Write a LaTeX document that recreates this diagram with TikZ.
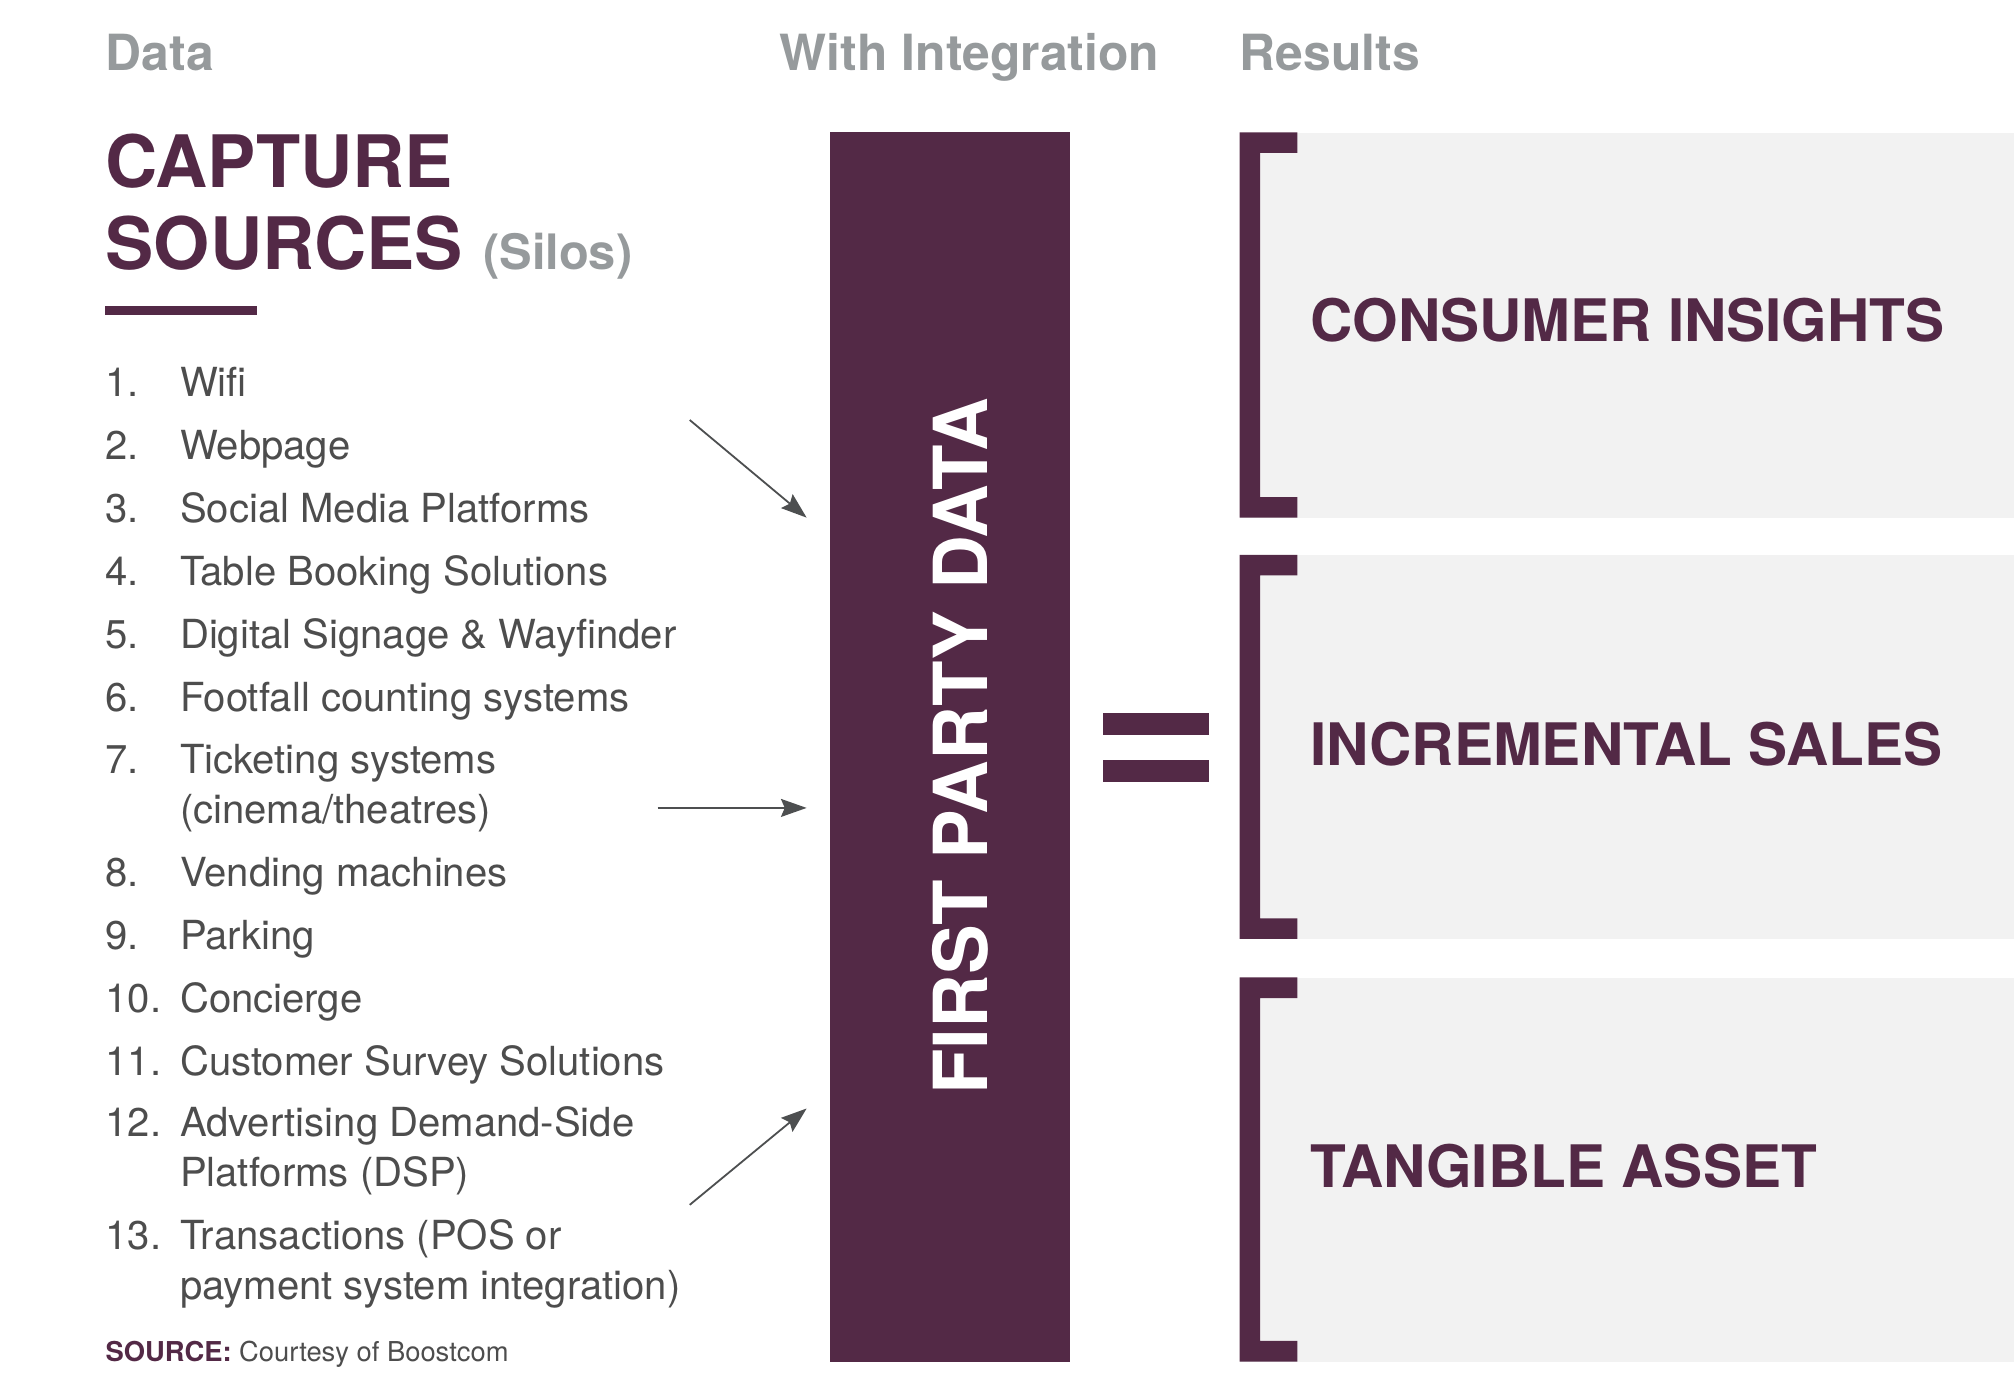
\documentclass[tikz,border=0pt]{standalone}
\usepackage{fontspec}
\setmainfont{TeX Gyre Heros}
\usetikzlibrary{arrows.meta}
\definecolor{plum}{RGB}{83,41,70}
\definecolor{hdrgray}{RGB}{150,154,156}
\definecolor{txtgray}{RGB}{77,77,77}
\definecolor{panelgray}{RGB}{242,242,242}
\definecolor{arrgray}{RGB}{77,79,80}
\newcommand{\fsz}[1]{\fontsize{#1}{#1}\selectfont}
\begin{document}
\begin{tikzpicture}[x=1pt,y=-1pt,
  hdr/.style={anchor=base west, inner sep=0, text=hdrgray, font=\fsz{38.8}\bfseries},
  big/.style={anchor=base west, inner sep=0, text=plum, font=\fsz{56.3}\bfseries},
  item/.style={anchor=base west, inner sep=0, text=txtgray, font=\fsz{31.2}},
  panel/.style={fill=panelgray, draw=none, inner sep=0, minimum width=603, anchor=north west},
  result/.style={anchor=west, inner sep=0, text=plum, font=\fsz{45.6}\bfseries},
  feed/.style={draw=arrgray, line width=1.4, -{Stealth[length=20pt,width=14pt,inset=3pt]}}]
\useasboundingbox (0,0) rectangle (1568,1088);
\fill[white] (0,0) rectangle (1568,1088);

% headers
\node[hdr] (hData) at (82,55) {Data};
\node[hdr] (hInt) at (607,55) {With Integration};
\node[hdr] (hRes) at (965,55) {Results};

% title
\node[big] (t1) at (82,146) {CAPTURE};
\node[big] (t2) at (82,210) {SOURCES};
\node[hdr, font=\fsz{38}\bfseries] (silos) at (376,210) {(Silos)};
\fill[plum] (82,238) rectangle (200,245);

% list
\foreach \n/\y/\t in {1/309/Wifi, 2/358/Webpage, 3/407/Social Media Platforms,
  4/456/Table Booking Solutions, 5/505/Digital Signage \& Wayfinder,
  6/554/Footfall counting systems, 7/602/Ticketing systems,
  8/690/Vending machines, 9/739/Parking, 10/788/Concierge,
  11/837/Customer Survey Solutions, 12/885/Advertising Demand-Side,
  13/973/Transactions (POS or}{
  \node[item] (n\n) at (82,\y) {\n.};
  \node[item] (i\n) at (140,\y) {\t};
}
\node[item] (i7b) at (140,641) {(cinema/theatres)};
\node[item] (i12b) at (140,924) {Platforms (DSP)};
\node[item] (i13b) at (140,1012) {payment system integration)};

% source
\node[anchor=base west, inner sep=0, font=\fsz{21.3}] (src) at (82,1060)
  {\textcolor{plum}{\bfseries SOURCE:} \textcolor{txtgray}{Courtesy of Boostcom}};

% central bar
\node[fill=plum, draw=none, inner sep=0, minimum width=187, minimum height=957] (bar) at (739.5,581.5) {};
\node[rotate=90, inner sep=0, text=white, font=\fsz{58}\bfseries] (fpd) at (748,581) {FIRST PARTY DATA};

% arrows
\coordinate (a1s) at (537,327); \coordinate (a1e) at (628,403);
\coordinate (a2s) at (512,629); \coordinate (a2e) at (628,629);
\coordinate (a3s) at (537,938); \coordinate (a3e) at (628,863);
\draw[feed] (a1s) -- (a1e);
\draw[feed] (a2s) -- (a2e);
\draw[feed] (a3s) -- (a3e);

% equals sign
\fill[plum] (859,555) rectangle (941,572);
\fill[plum] (859,592) rectangle (941,609);

% panels
\node[panel, minimum height=300] (p1) at (965,103) {};
\node[panel, minimum height=299] (p2) at (965,432) {};
\node[panel, minimum height=299] (p3) at (965,761) {};
\foreach \t/\b in {103/403, 432/731, 761/1060}{
  \fill[plum] (965,\t) -- (1010,\t) -- (1010,\t+16) -- (981,\t+16) -- (981,\b-16)
    -- (1010,\b-16) -- (1010,\b) -- (965,\b) -- cycle;
}
\node[result] (r1) at (1020,249) {CONSUMER INSIGHTS};
\node[result] (r2) at (1020,579) {INCREMENTAL SALES};
\node[result] (r3) at (1020,908) {TANGIBLE ASSET};
\end{tikzpicture}
\end{document}
